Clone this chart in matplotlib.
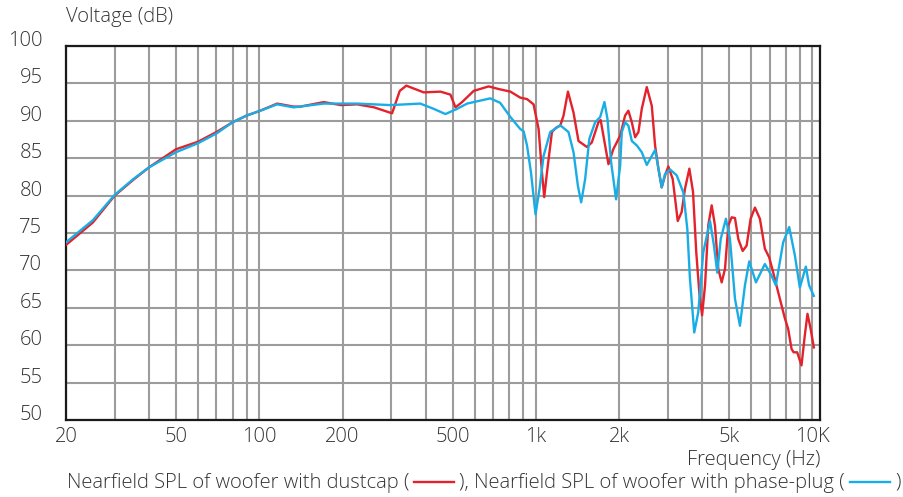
import matplotlib
matplotlib.use('Agg')
import matplotlib.pyplot as plt
from matplotlib.lines import Line2D

# ---------------- data ----------------
freq_dustcap = [20, 25, 30, 35, 40, 50, 60, 70, 80, 90, 100, 116, 133, 141, 171, 197, 226, 260,
                302, 322, 340, 393, 452, 491, 512, 541, 596, 675, 733, 809, 878, 929, 981,
                1023, 1052, 1072, 1097, 1143, 1185, 1225, 1259, 1306, 1368, 1426, 1529, 1593,
                1683, 1715, 1780, 1830, 1905, 2017, 2102, 2160, 2223, 2285, 2349, 2415, 2518,
                2625, 2698, 2774, 2851, 2931, 3013, 3125, 3210, 3258, 3366, 3460, 3589, 3700,
                3800, 3900, 3990, 4090, 4200, 4322, 4442, 4566, 4697, 4829, 4964, 5105, 5247,
                5394, 5594, 5780, 5977, 6196, 6457, 6730, 6976, 7211, 7517, 7948, 8168, 8404,
                8550, 8807, 9130, 9384, 9596, 9850, 10116]
spl_dustcap = [73.4, 76.4, 80.0, 82.1, 83.8, 86.2, 87.2, 88.5, 89.8, 90.7, 91.3, 92.3, 91.9, 91.9,
               92.5, 92.1, 92.2, 91.8, 91.0, 94.0, 94.7, 93.8, 93.9, 93.5, 91.8, 92.5, 94.0, 94.6,
               94.25, 93.9, 93.1, 92.9, 92.2, 88.9, 83.1, 79.8, 83.1, 88.5, 89.1, 89.35, 90.7, 93.9,
               91.1, 87.3, 86.5, 87.1, 89.8, 90.1, 86.7, 84.2, 86.2, 88.0, 90.7, 91.35, 89.8, 87.8,
               88.5, 91.6, 94.5, 92.0, 86.7, 83.6, 81.1, 82.7, 83.9, 82.2, 78.65, 76.6, 77.8, 80.9,
               83.6, 80.5, 72.5, 67.0, 64.0, 68.0, 76.0, 78.7, 76.0, 70.2, 68.4, 70.2, 76.0, 77.1,
               77.0, 74.2, 72.6, 73.3, 76.9, 78.4, 76.9, 72.9, 71.75, 69.75, 67.1, 63.6, 62.2, 59.5,
               59.05, 59.05, 57.3, 61.3, 64.2, 62.2, 59.7]

freq_phaseplug = [20, 25, 30, 35, 40, 50, 60, 70, 80, 90, 100, 116, 133, 171, 226, 298, 382, 427,
                  471, 519, 564, 684, 743, 809, 878, 903, 929, 960, 997, 1031, 1066, 1127, 1225,
                  1312, 1368, 1419, 1458, 1507, 1561, 1638, 1708, 1770, 1815, 1871, 1950, 2017,
                  2045, 2102, 2160, 2223, 2318, 2415, 2518, 2589, 2698, 2774, 2851, 2931, 3056,
                  3231, 3414, 3529, 3607, 3738, 3865, 4029, 4263, 4405, 4529, 4660, 4866, 5033,
                  5247, 5468, 5700, 5909, 6249, 6730, 7116, 7374, 7838, 8240, 8640, 9004, 9466,
                  9727, 10116]
spl_phaseplug = [73.75, 76.7, 80.1, 82.2, 83.8, 85.8, 87.0, 88.3, 89.8, 90.7, 91.3, 92.2, 91.8,
                 92.3, 92.3, 92.1, 92.3, 91.6, 90.9, 91.6, 92.3, 93.0, 92.4, 90.5, 88.9, 88.6,
                 86.7, 83.1, 77.5, 80.9, 85.3, 88.5, 89.4, 88.5, 85.8, 81.3, 79.1, 82.2, 87.6,
                 89.8, 90.5, 92.5, 90.25, 84.45, 79.5, 84.0, 88.5, 89.8, 89.35, 87.3, 86.7, 85.8,
                 84.1, 84.9, 86.1, 83.6, 81.1, 82.9, 83.5, 82.7, 80.4, 75.5, 68.85, 61.7, 64.4,
                 72.4, 76.6, 73.3, 69.7, 74.2, 76.9, 74.2, 66.2, 62.6, 68.0, 71.2, 68.4, 70.85,
                 69.3, 68.0, 73.75, 75.8, 72.0, 67.7, 70.5, 68.0, 66.6]

x_major_ticks = [20, 50, 100, 200, 500, 1000, 2000, 5000, 10000]
x_major_labels = ['20', '50', '100', '200', '500', '1k', '2k', '5k', '10K']
x_grid_lines = [30, 40, 60, 70, 80, 90, 300, 400, 600, 700, 800, 900,
                3000, 4000, 6000, 7000, 8000, 9000]
y_ticks = [50, 55, 60, 65, 70, 75, 80, 85, 90, 95, 100]

y_title = 'Voltage (dB)'
x_title = 'Frequency (Hz)'
legend_parts = ['Nearfield SPL of woofer with dustcap (',
                '), Nearfield SPL of woofer with phase-plug (',
                ')']

# ---------------- style ----------------
RED = '#e3222c'
BLUE = '#19ade6'
GRID = '#9c9c9c'
TXT = '#333333'
plt.rcParams['font.family'] = ['Open Sans', 'DejaVu Sans']
plt.rcParams['font.weight'] = 'light'
FS = 14.5

W, H = 904, 497
fig = plt.figure(figsize=(W / 100, H / 100), dpi=100)
ax = fig.add_axes([66 / W, 77 / H, 754 / W, 374 / H])
ax.set_xscale('log')
ax.set_xlim(20, 10650)
ax.set_ylim(50, 100)

ax.set_xticks(x_major_ticks)
ax.set_xticklabels(x_major_labels)
ax.set_xticks(x_grid_lines, minor=True)
ax.set_xticklabels([], minor=True)
ax.set_yticks(y_ticks)
ax.set_yticklabels([str(v) for v in y_ticks])

ax.grid(True, which='both', axis='x', color=GRID, lw=1.5)
ax.grid(True, which='major', axis='y', color=GRID, lw=1.5)
ax.set_axisbelow(True)
ax.tick_params(which='both', length=0, labelsize=FS, labelcolor=TXT)
ax.tick_params(axis='x', pad=5)
ax.tick_params(axis='y', pad=17)
for lab in ax.get_yticklabels():
    lab.set_va('baseline')
for sp in ax.spines.values():
    sp.set_color('#1a1a1a')
    sp.set_linewidth(1.6)

ax.plot(freq_dustcap, spl_dustcap, color=RED, lw=1.7, zorder=3)
ax.plot(freq_phaseplug, spl_phaseplug, color=BLUE, lw=1.7, zorder=4)

fig.text(66 / W, 1 - 17 / H, y_title, fontsize=FS, color=TXT, ha='left', va='center')
fig.text(821 / W, 1 - 460 / H, x_title, fontsize=FS, color=TXT, ha='right', va='center')

# legend-like caption with line samples
fig.canvas.draw()
renderer = fig.canvas.get_renderer()
ycap = 1 - 483 / H
x0 = 67
t1 = fig.text(x0 / W, ycap, legend_parts[0], fontsize=FS, color=TXT, ha='left', va='center')
bb = t1.get_window_extent(renderer)
xa = bb.x1 + 5
fig.add_artist(Line2D([xa / W, (xa + 40) / W], [ycap + 1 / H, ycap + 1 / H], color=RED, lw=1.7,
                      transform=fig.transFigure))
t2 = fig.text((xa + 45) / W, ycap, legend_parts[1], fontsize=FS, color=TXT, ha='left', va='center')
bb2 = t2.get_window_extent(renderer)
xb = bb2.x1 + 5
fig.add_artist(Line2D([xb / W, (xb + 40) / W], [ycap + 1 / H, ycap + 1 / H], color=BLUE, lw=1.7,
                      transform=fig.transFigure))
fig.text((xb + 45) / W, ycap, legend_parts[2], fontsize=FS, color=TXT, ha='left', va='center')

fig.savefig('out.png', dpi=100)
